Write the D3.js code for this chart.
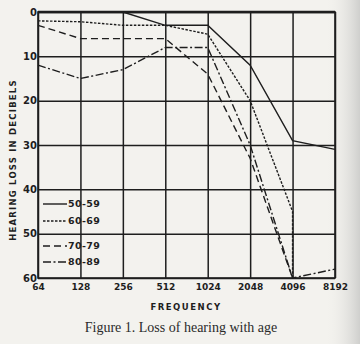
<!DOCTYPE html>
<html>
<head>
<meta charset="utf-8">
<script src="https://cdn.jsdelivr.net/npm/d3@7"></script>
<style>
  html, body { margin: 0; padding: 0; background: #f3f2ee; }
  svg { display: block; }
</style>
</head>
<body>
<svg id="chart" width="360" height="344"></svg>
<script>
// ---- data ----
const frequencies = [64, 128, 256, 512, 1024, 2048, 4096, 8192];
const lossTicks = [0, 10, 20, 30, 40, 50, 60];
const ageGroups = ["50-59", "60-69", "70-79", "80-89"];

const freq50_59 = [64, 128, 256, 512, 1024, 2048, 4096, 8192];
const loss50_59 = [0, 0, 0, 3, 3, 12, 29, 31];

const freq60_69 = [64, 128, 256, 512, 1024, 2048, 4096, 4096];
const loss60_69 = [2, 2.2, 3, 3, 5, 20, 45, 60];

const freq70_79 = [64, 128, 256, 512, 1024, 2048, 4096];
const loss70_79 = [3, 6, 6, 6, 14, 33, 60];

const freq80_89 = [64, 128, 256, 512, 1024, 2048, 4096, 8192];
const loss80_89 = [12, 15, 13, 8, 8, 30, 60, 58];

// ---- layout ----
const svg = d3.select("#chart");
const W = 360, H = 344;
const pL = 38, pR = 335, pT = 12, pB = 278;

const defs = svg.append("defs");
const grad = defs.append("linearGradient").attr("id", "edge").attr("x1", 0).attr("x2", 1).attr("y1", 0).attr("y2", 0);
grad.append("stop").attr("offset", "0%").attr("stop-color", "#f3f2ee").attr("stop-opacity", 0);
grad.append("stop").attr("offset", "100%").attr("stop-color", "#cfcfcd").attr("stop-opacity", 1);
defs.append("clipPath").attr("id", "plotclip").append("rect")
  .attr("x", pL - 1).attr("y", pT - 2).attr("width", pR - pL + 2).attr("height", pB - pT + 3);

svg.append("rect").attr("width", W).attr("height", H).attr("fill", "#f3f2ee");
svg.append("rect").attr("x", 325).attr("width", 35).attr("height", H).attr("fill", "url(#edge)");

const x = d3.scaleLog().base(2).domain([64, 8192]).range([pL, pR]);
const y = d3.scaleLinear().domain([0, 60]).range([pT, pB]);

const ink = "#1e1e1e";

// grid + labels via axes
const yAxis = d3.axisLeft(y).tickValues(lossTicks).tickSize(-(pR - pL)).tickPadding(1).tickFormat(d => d);
const gy = svg.append("g").attr("transform", `translate(${pL},0)`).call(yAxis);
gy.select(".domain").remove();
gy.selectAll(".tick line").attr("stroke", ink).attr("stroke-width", 1.5);
gy.selectAll(".tick text").attr("fill", ink)
  .style("font-family", "'DejaVu Sans', sans-serif").style("font-weight", "bold").style("font-size", "10px");

const xAxis = d3.axisBottom(x).tickValues(frequencies).tickSize(-(pB - pT)).tickPadding(6).tickFormat(d => d);
const gx = svg.append("g").attr("transform", `translate(0,${pB})`).call(xAxis);
gx.select(".domain").remove();
gx.selectAll(".tick line").attr("stroke", ink).attr("stroke-width", 1.5);
gx.selectAll(".tick text").attr("fill", ink)
  .style("font-family", "'DejaVu Sans', sans-serif").style("font-weight", "bold").style("font-size", "9px");

// frame
svg.append("rect").attr("x", pL).attr("y", pT).attr("width", pR - pL).attr("height", pB - pT)
  .attr("fill", "none").attr("stroke", ink).attr("stroke-width", 1.6);
svg.append("line").attr("x1", pL).attr("x2", pR).attr("y1", pT).attr("y2", pT)
  .attr("stroke", ink).attr("stroke-width", 2.4);

// series
const series = [
  { name: ageGroups[0], f: freq50_59, v: loss50_59, dash: null },
  { name: ageGroups[1], f: freq60_69, v: loss60_69, dash: "2.5,1.5" },
  { name: ageGroups[2], f: freq70_79, v: loss70_79, dash: "7,4" },
  { name: ageGroups[3], f: freq80_89, v: loss80_89, dash: "8,2.5,2,2.5" }
];

const line = d3.line().x(d => x(d[0])).y(d => y(d[1]));
const gl = svg.append("g").attr("clip-path", "url(#plotclip)");
series.forEach(s => {
  gl.append("path")
    .attr("d", line(s.f.map((f, i) => [f, s.v[i]])))
    .attr("fill", "none").attr("stroke", ink).attr("stroke-width", 1.4)
    .attr("stroke-dasharray", s.dash);
});

// legend
const legendY = [204, 221, 246, 262];
series.forEach((s, i) => {
  svg.append("line").attr("x1", 43).attr("x2", 67).attr("y1", legendY[i]).attr("y2", legendY[i])
    .attr("stroke", ink).attr("stroke-width", 1.4).attr("stroke-dasharray", s.dash);
  svg.append("text").attr("x", 68).attr("y", legendY[i]).attr("dy", "0.35em")
    .attr("fill", ink).style("font-family", "'DejaVu Sans', sans-serif").style("font-weight", "bold")
    .style("font-size", "9.5px").style("letter-spacing", "0.4px").text(s.name);
});

// axis titles
svg.append("text").attr("transform", `translate(16,160) rotate(-90)`).attr("text-anchor", "middle")
  .attr("fill", ink).style("font-family", "'DejaVu Sans', sans-serif").style("font-weight", "bold")
  .style("font-size", "8.5px").style("letter-spacing", "1.2px").text("HEARING LOSS IN DECIBELS");

svg.append("text").attr("x", 186).attr("y", 310).attr("text-anchor", "middle")
  .attr("fill", ink).style("font-family", "'DejaVu Sans', sans-serif").style("font-weight", "bold")
  .style("font-size", "8.5px").style("letter-spacing", "1.5px").text("FREQUENCY");

svg.append("text").attr("x", 181).attr("y", 332).attr("text-anchor", "middle")
  .attr("fill", "#2a2a2a").style("font-family", "'Liberation Serif', 'DejaVu Serif', serif")
  .style("font-size", "14px").text("Figure 1.  Loss of hearing with age");
</script>
</body>
</html>
